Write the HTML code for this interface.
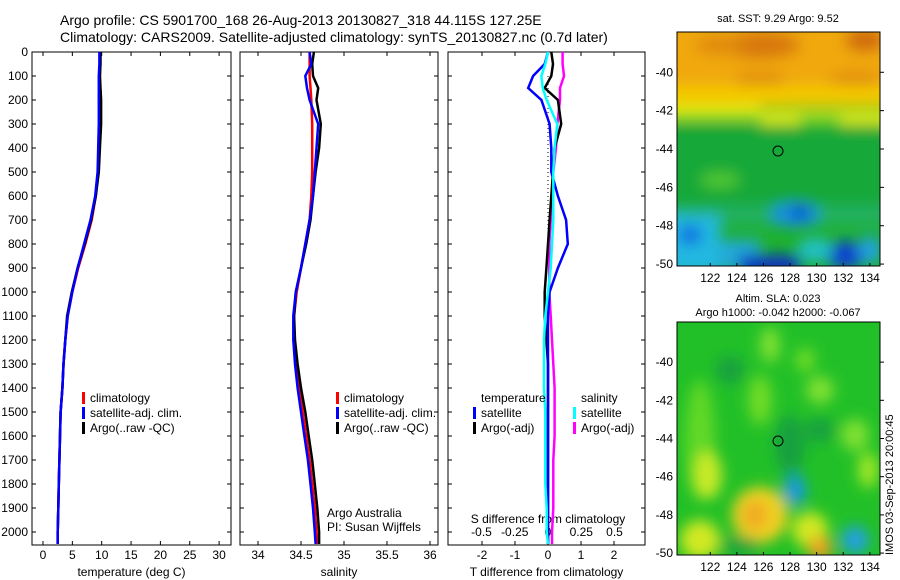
<!DOCTYPE html>
<html><head><meta charset="utf-8"><style>
body{margin:0;background:#fff}
svg{display:block;font-family:"Liberation Sans",sans-serif}
</style></head><body>
<svg id="s" width="900" height="580" xmlns="http://www.w3.org/2000/svg">
<defs>
<filter id="bl" filterUnits="userSpaceOnUse" x="600" y="0" width="320" height="600"><feGaussianBlur stdDeviation="7"/></filter>
<clipPath id="c1"><rect x="677" y="32" width="203" height="234"/></clipPath>
<clipPath id="c2"><rect x="677" y="322" width="203" height="233"/></clipPath>
</defs>
<text x="60" y="25" font-size="14">Argo profile: CS 5901700_168 26-Aug-2013 20130827_318 44.115S 127.25E</text>
<text x="60" y="42" font-size="14">Climatology: CARS2009. Satellite-adjusted climatology: synTS_20130827.nc (0.7d later)</text>
<g clip-path="url(#c1)">
<rect x="677" y="32" width="203" height="234" fill="#1fb030"/>
<g filter="url(#bl)">
<rect x="660" y="20" width="240" height="70" fill="#f0a810"/>
<ellipse cx="760" cy="45" rx="40" ry="14" fill="#d8780a"/>
<ellipse cx="720" cy="45" rx="25" ry="10" fill="#e08a10"/>
<ellipse cx="865" cy="40" rx="20" ry="12" fill="#d06a0a"/>
<ellipse cx="760" cy="80" rx="25" ry="8" fill="#e08a10"/>
<ellipse cx="855" cy="80" rx="25" ry="8" fill="#e08a10"/>
<rect x="660" y="85" width="240" height="22" fill="#f4c800"/>
<rect x="660" y="105" width="100" height="14" fill="#d8ea18"/>
<rect x="760" y="110" width="140" height="30" fill="#d8ea18"/>
<rect x="800" y="115" width="40" height="15" fill="#60d020"/>
<rect x="660" y="125" width="240" height="80" fill="#18a838"/>
<ellipse cx="720" cy="180" rx="20" ry="8" fill="#50c830"/>
<rect x="660" y="205" width="240" height="20" fill="#20b060"/>
<rect x="660" y="215" width="60" height="60" fill="#20b8e0"/>
<ellipse cx="690" cy="235" rx="12" ry="10" fill="#1070e0"/>
<rect x="720" y="240" width="40" height="30" fill="#20a8d8"/>
<ellipse cx="795" cy="215" rx="25" ry="12" fill="#1890e0"/>
<ellipse cx="800" cy="212" rx="10" ry="7" fill="#1050d0"/>
<rect x="740" y="255" width="60" height="20" fill="#0830c0"/>
<ellipse cx="845" cy="255" rx="20" ry="14" fill="#1040d0"/>
<ellipse cx="815" cy="250" rx="18" ry="12" fill="#20c0c8"/>
<ellipse cx="870" cy="250" rx="12" ry="14" fill="#20a0e0"/>
</g>
</g>
<rect x="677" y="32" width="203" height="234" fill="none" stroke="#000"/>
<circle cx="778" cy="151" r="5" fill="none" stroke="#000"/>
<text x="778" y="22" font-size="11" text-anchor="middle">sat. SST: 9.29 Argo: 9.52</text>
<g clip-path="url(#c2)">
<rect x="677" y="322" width="203" height="233" fill="#22c028"/>
<g filter="url(#bl)">
<ellipse cx="700" cy="440" rx="15" ry="60" fill="#60d828"/>
<ellipse cx="770" cy="345" rx="10" ry="18" fill="#80e030"/>
<ellipse cx="760" cy="400" rx="12" ry="25" fill="#70dc28"/>
<ellipse cx="730" cy="370" rx="14" ry="14" fill="#14a040"/>
<ellipse cx="805" cy="360" rx="10" ry="12" fill="#70dc28"/>
<ellipse cx="820" cy="390" rx="14" ry="14" fill="#80e030"/>
<ellipse cx="855" cy="435" rx="14" ry="16" fill="#80e030"/>
<ellipse cx="868" cy="470" rx="10" ry="18" fill="#a0e828"/>
<ellipse cx="820" cy="430" rx="15" ry="12" fill="#14a040"/>
<ellipse cx="790" cy="445" rx="15" ry="30" fill="#14a040"/>
<ellipse cx="708" cy="475" rx="14" ry="24" fill="#c8ea28"/>
<ellipse cx="700" cy="540" rx="20" ry="20" fill="#d0e820"/>
<ellipse cx="760" cy="515" rx="28" ry="28" fill="#f0d020"/>
<ellipse cx="755" cy="515" rx="12" ry="14" fill="#f0a820"/>
<ellipse cx="795" cy="490" rx="11" ry="15" fill="#1898e0"/>
<ellipse cx="810" cy="530" rx="18" ry="18" fill="#d0e820"/>
<ellipse cx="820" cy="548" rx="12" ry="12" fill="#f0a020"/>
<ellipse cx="855" cy="540" rx="14" ry="14" fill="#20a0e0"/>
<ellipse cx="740" cy="545" rx="20" ry="8" fill="#14a040"/>
</g>
</g>
<rect x="677" y="322" width="203" height="233" fill="none" stroke="#000"/>
<circle cx="778" cy="441" r="5" fill="none" stroke="#000"/>
<text x="778" y="302" font-size="11" text-anchor="middle">Altim. SLA: 0.023</text>
<text x="778" y="316" font-size="11" text-anchor="middle">Argo h1000: -0.042 h2000: -0.067</text>
<text transform="translate(893,555) rotate(-90)" font-size="11">IMOS 03-Sep-2013 20:00:45</text>
</svg>
<script>
const depths=[0,50,100,150,200,300,400,500,600,700,800,900,1000,1100,1200,1300,1400,1500,1600,1700,1800,1900,2000,2050];
const tClim=[9.7,9.7,9.7,9.7,9.6,9.6,9.5,9.4,9.0,8.3,7.2,6.0,5.0,4.2,3.8,3.5,3.3,3.0,2.9,2.8,2.7,2.6,2.5,2.5];
const tSat=[9.6,9.6,9.5,9.5,9.5,9.5,9.4,9.3,8.9,8.1,7.0,5.9,5.0,4.2,3.8,3.5,3.3,3.0,2.9,2.8,2.7,2.6,2.5,2.5];
const tArgo=[9.8,9.8,9.7,9.8,9.9,9.9,9.7,9.5,9.0,8.2,7.1,5.9,4.9,4.1,3.8,3.5,3.3,3.0,2.9,2.8,2.7,2.6,2.5,2.5];
const sClim=[34.6,34.6,34.6,34.61,34.62,34.63,34.63,34.63,34.62,34.6,34.55,34.5,34.45,34.42,34.42,34.44,34.48,34.52,34.56,34.6,34.63,34.66,34.68,34.69];
const sSat=[34.6,34.62,34.55,34.57,34.6,34.7,34.68,34.66,34.64,34.6,34.55,34.5,34.44,34.41,34.41,34.43,34.46,34.5,34.54,34.58,34.61,34.64,34.66,34.67];
const sArgo=[34.65,34.63,34.64,34.7,34.68,34.73,34.71,34.67,34.64,34.61,34.56,34.5,34.44,34.42,34.43,34.46,34.5,34.55,34.59,34.63,34.66,34.69,34.71,34.71];
const dTsat=[0,-0.1,-0.45,-0.6,-0.2,0.05,0.1,0.1,0.3,0.55,0.6,0.3,0.05,0,0,0,0,0,0,0,0,0,0,0];
const dTargo=[0.1,0.15,0.1,-0.1,0.3,0.4,0.2,0.15,0.1,0.05,0,-0.05,-0.1,-0.1,-0.05,0,0,0,0,0,0,0,0,0];
const dSsat=[0,-0.02,-0.05,-0.04,-0.01,0.07,0.05,0.04,0.04,0.04,0.03,0.02,0,-0.02,-0.03,-0.03,-0.03,-0.02,-0.02,-0.02,-0.02,-0.01,-0.01,0];
const dSargo=[0.11,0.11,0.12,0.09,0.09,0.07,0.06,0.04,0.03,0.02,0.01,0.01,0.01,0.02,0.03,0.04,0.05,0.05,0.05,0.04,0.04,0.04,0.03,0.03];
const depthTicks=[0,100,200,300,400,500,600,700,800,900,1000,1100,1200,1300,1400,1500,1600,1700,1800,1900,2000];
const tTicks=[0,5,10,15,20,25,30];
const sTicks=[34,34.5,35,35.5,36];
const dTTicks=[-2,-1,0,1,2];
const dSTicks=["-0.5","-0.25","0","0.25","0.5"];
const lonTicks=[122,124,126,128,130,132,134];
const latTicks=[-40,-42,-44,-46,-48,-50];

const NS="http://www.w3.org/2000/svg",svg=document.getElementById('s');
function el(t,a,txt){const e=document.createElementNS(NS,t);for(const k in a)e.setAttribute(k,a[k]);if(txt!==undefined)e.textContent=txt;svg.appendChild(e);return e;}
const yD=d=>52+d*0.24, PB=545;
const xT=v=>43+v*5.87, xS=v=>258+(v-34)*86, xDT=v=>548+v*33, xDS=v=>548+v*133;
const panels=[[32,231,'temperature-panel'],[240,438,'salinity-panel'],[448,645,'difference-panel']];
panels.forEach(p=>{const r=el('rect',{x:p[0],y:52,width:p[1]-p[0],height:PB-52,fill:'none',stroke:'#000'});


depthTicks.forEach(d=>{el('line',{x1:p[0],x2:p[0]+4,y1:yD(d),y2:yD(d),stroke:'#000'});el('line',{x1:p[1]-4,x2:p[1],y1:yD(d),y2:yD(d),stroke:'#000'});});});
depthTicks.forEach(d=>{const t=el('text',{x:28,y:yD(d)+4,'font-size':12,'text-anchor':'end'},d);

});
function xaxis(ticks,fx,p,lab,name){ticks.forEach(v=>{const x=fx(+v);el('line',{x1:x,x2:x,y1:PB-4,y2:PB,stroke:'#000'});el('line',{x1:x,x2:x,y1:52,y2:56,stroke:'#000'});
const t=el('text',{x:x,y:559,'font-size':12,'text-anchor':'middle'},v);

});
const l=el('text',{x:(p[0]+p[1])/2,y:576,'font-size':12,'text-anchor':'middle'},lab);

}
xaxis(tTicks,xT,panels[0],'temperature (deg C)','temperature');
xaxis(sTicks,xS,panels[1],'salinity','salinity');
xaxis(dTTicks,xDT,panels[2],'T difference from climatology','t-difference');
dSTicks.forEach(v=>{const t=el('text',{x:xDS(+v),y:536,'font-size':12,'text-anchor':'middle'},v);

});
const st=el('text',{x:548,y:523,'font-size':12,'text-anchor':'middle'},'S difference from climatology');


const zl=el('line',{x1:548,x2:548,y1:yD(100),y2:yD(800),stroke:'#000','stroke-dasharray':'1 3'});


function line(vals,fx,col,name){const pts=vals.map((v,i)=>fx(v).toFixed(1)+','+yD(depths[i]).toFixed(1)).join(' ');
const e=el('polyline',{points:pts,fill:'none',stroke:col,'stroke-width':2.5});

}
line(tClim,xT,'#f00','temp-climatology-line');line(tArgo,xT,'#000','temp-argo-line');line(tSat,xT,'#00f','temp-satellite-line');
line(sClim,xS,'#f00','sal-climatology-line');line(sArgo,xS,'#000','sal-argo-line');line(sSat,xS,'#00f','sal-satellite-line');
line(dSargo,xDS,'#f0f','dsal-argo-line');line(dTargo,xDT,'#000','dtemp-argo-line');line(dTsat,xDT,'#00f','dtemp-satellite-line');line(dSsat,xDS,'#0ff','dsal-satellite-line');
function legend(x,y,items,name){items.forEach((it,i)=>{const yy=y+i*15;
if(it[0])el('rect',{x:x,y:yy-10,width:3,height:12,fill:it[0]});
const t=el('text',{x:x+8,y:yy,'font-size':12},it[1]);

});}
legend(82,402,[['#f00','climatology'],['#00f','satellite-adj. clim.'],['#000','Argo(..raw -QC)']],'temp-legend');
legend(336,402,[['#f00','climatology'],['#00f','satellite-adj. clim.'],['#000','Argo(..raw -QC)']],'sal-legend');
legend(473,402,[[null,'temperature'],['#00f','satellite'],['#000','Argo(-adj)']],'dtemp-legend');
legend(573,402,[[null,'salinity'],['#0ff','satellite'],['#f0f','Argo(-adj)']],'dsal-legend');
const a1=el('text',{x:327,y:517,'font-size':12},'Argo Australia');
const a2=el('text',{x:327,y:531,'font-size':12},'PI: Susan Wijffels');
const xLon=v=>677+(v-119.5)*13.3;
[[32,266],[322,555]].forEach((m,k)=>{const top=m[0],bot=m[1],yLat=v=>top+(-37.9-v)*(bot-top)/12.2;
lonTicks.forEach(v=>{el('line',{x1:xLon(v),x2:xLon(v),y1:bot-3,y2:bot,stroke:'#000'});
const t=el('text',{x:xLon(v),y:bot+16,'font-size':12,'text-anchor':'middle'},v);

});
latTicks.forEach(v=>{const t=el('text',{x:673,y:yLat(v)+4,'font-size':12,'text-anchor':'end'},v);


el('line',{x1:880,x2:884,y1:yLat(v),y2:yLat(v),stroke:'#000'});});});
</script>
</body></html>
